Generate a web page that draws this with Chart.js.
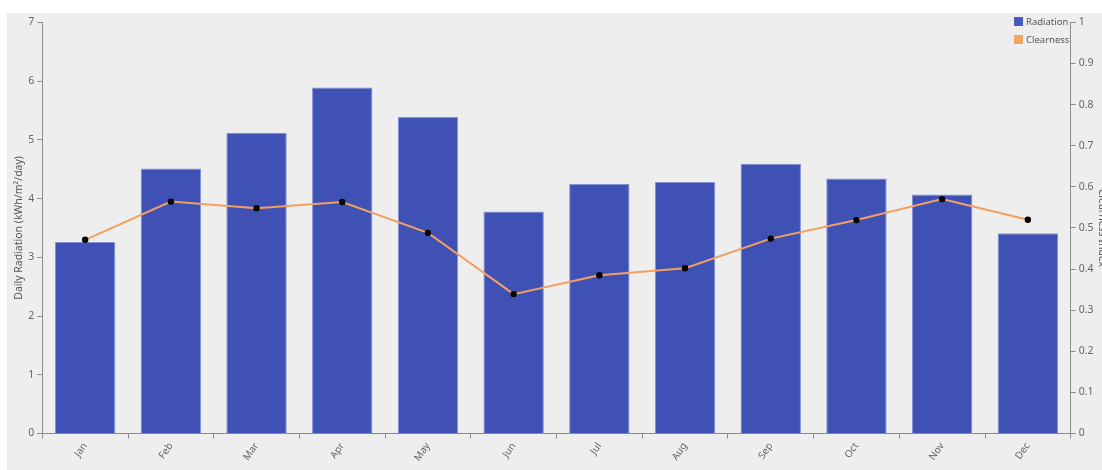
<!DOCTYPE html>
<html>
<head>
<meta charset="utf-8">
<script src="https://cdn.jsdelivr.net/npm/chart.js@4.4.1/dist/chart.umd.min.js"></script>
<style>
  html, body { margin: 0; padding: 0; background: #ffffff; width: 1102px; height: 470px; overflow: hidden; }
  #wrap { position: absolute; left: 7px; top: 13px; width: 1104px; height: 457px; }
  #legend { position: absolute; left: 1014px; top: 12px; font-family: "Noto Sans", "Open Sans", sans-serif; font-size: 9.5px; color: #555; }
  #legend div { display: flex; align-items: center; height: 18px; }
  #legend span.box { display: inline-block; width: 9px; height: 9px; margin-right: 3px; }
</style>
</head>
<body>
<div id="wrap"><canvas id="c"></canvas></div>
<div id="legend"></div>
<script>
const months = ["Jan","Feb","Mar","Apr","May","Jun","Jul","Aug","Sep","Oct","Nov","Dec"];
const radiation = [3.26, 4.51, 5.12, 5.89, 5.39, 3.78, 4.25, 4.28, 4.59, 4.34, 4.07, 3.41];
const clearness = [0.471, 0.564, 0.548, 0.563, 0.488, 0.339, 0.385, 0.402, 0.474, 0.519, 0.570, 0.520];
const leftTicks = [0, 1, 2, 3, 4, 5, 6, 7];
const rightTicks = [0, 0.1, 0.2, 0.3, 0.4, 0.5, 0.6, 0.7, 0.8, 0.9, 1];

const FONT = '"Noto Sans", "Open Sans", sans-serif';
const tickColor = '#666';
const axisColor = '#8a8a8a';

const bgPlugin = {
  id: 'bg',
  beforeDraw(chart) {
    const ctx = chart.ctx;
    ctx.save();
    ctx.fillStyle = '#eeeeee';
    ctx.fillRect(0, 0, chart.width, chart.height);
    ctx.restore();
  }
};

const chart = new Chart(document.getElementById('c'), {
  data: {
    labels: months,
    datasets: [
      {
        type: 'line',
        label: 'Clearness',
        data: clearness,
        yAxisID: 'y1',
        borderColor: '#f2a062',
        backgroundColor: '#f2a062',
        borderWidth: 2,
        pointRadius: 3.2,
        pointBackgroundColor: '#000',
        pointBorderColor: '#000',
        pointBorderWidth: 0,
        tension: 0,
        order: 0
      },
      {
        type: 'bar',
        label: 'Radiation',
        data: radiation,
        yAxisID: 'y',
        backgroundColor: '#3f51b5',
        borderColor: '#8491d4',
        borderWidth: 1,
        barPercentage: 0.705,
        categoryPercentage: 1.0,
        order: 1
      }
    ]
  },
  options: {
    responsive: true,
    maintainAspectRatio: false,
    animation: false,
    layout: { padding: { top: 9, left: 0, right: 0, bottom: 0 } },
    plugins: { legend: { display: false }, tooltip: { enabled: false } },
    scales: {
      x: {
        type: 'category',
        offset: true,
        grid: { display: true, drawOnChartArea: false, drawTicks: true, tickLength: 5, color: axisColor, offset: true },
        border: { display: true, color: axisColor, width: 1 },
        ticks: { color: tickColor, font: { family: FONT, size: 10 }, maxRotation: 55, minRotation: 55, padding: 2 },
        afterFit(scale) { scale.height = 36.5; }
      },
      y: {
        position: 'left',
        min: 0, max: 7,
        afterBuildTicks(scale) { scale.ticks = leftTicks.map(v => ({ value: v })); },
        grid: { display: true, drawOnChartArea: false, drawTicks: true, tickLength: 5, color: axisColor },
        border: { display: true, color: axisColor, width: 1 },
        ticks: { color: tickColor, font: { family: FONT, size: 10.5 }, padding: 3 },
        title: { display: true, text: 'Daily Radiation (kWh/m²/day)', color: '#555', font: { family: FONT, size: 10.5 }, padding: { top: 6, bottom: 0 } },
        afterFit(scale) { scale.width = 35.3; }
      },
      y1: {
        position: 'right',
        min: 0, max: 1,
        afterBuildTicks(scale) { scale.ticks = rightTicks.map(v => ({ value: v })); },
        grid: { display: true, drawOnChartArea: false, drawTicks: true, tickLength: 5, color: axisColor },
        border: { display: true, color: axisColor, width: 1 },
        ticks: { color: tickColor, font: { family: FONT, size: 10.5 }, padding: 3, callback: v => String(Math.round(v * 10) / 10) },
        title: { display: true, text: 'Clearness Index', color: '#555', font: { family: FONT, size: 10.5 }, padding: { top: 3, bottom: 3 } },
        afterFit(scale) { scale.width = 40.3; }
      }
    }
  },
  plugins: [bgPlugin]
});

// HTML legend built from the datasets
const legendEl = document.getElementById('legend');
['Radiation', 'Clearness'].forEach(name => {
  const ds = chart.data.datasets.find(d => d.label === name);
  const row = document.createElement('div');
  const box = document.createElement('span');
  box.className = 'box';
  box.style.background = name === 'Radiation' ? '#4a5cbb' : '#f4a462';
  row.appendChild(box);
  row.appendChild(document.createTextNode(ds.label));
  legendEl.appendChild(row);
});
</script>
</body>
</html>
